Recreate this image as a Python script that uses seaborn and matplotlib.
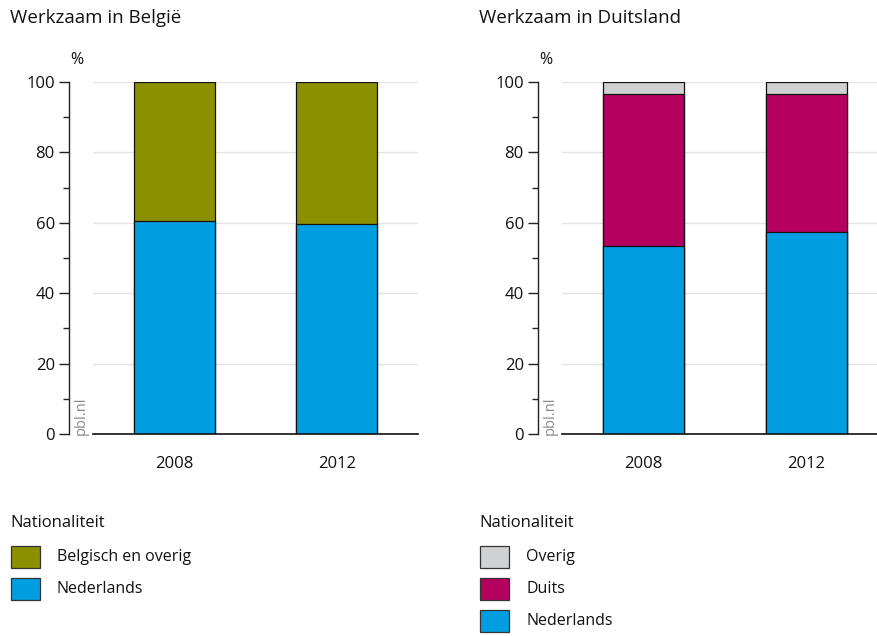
import matplotlib
matplotlib.use("Agg")
import matplotlib.pyplot as plt
from matplotlib.patches import Rectangle
from matplotlib.ticker import MultipleLocator
import numpy as np
import seaborn as sns

# ---- data ----
years = ["2008", "2012"]
be_nederlands = [60.4, 59.6]
be_belgisch = [39.6, 40.4]
de_nederlands = [53.5, 57.3]
de_duits = [43.1, 39.3]
de_overig = [3.4, 3.4]

be_labels = ["Belgisch en overig", "Nederlands"]
de_labels = ["Overig", "Duits", "Nederlands"]

C_OLIVE = "#8C8F00"
C_BLUE = "#009EE0"
C_MAGENTA = "#B5005F"
C_GREY = "#D0D1D3"

sns.set_theme(style="white")
FONT = ["Open Sans", "DejaVu Sans"]
plt.rcParams["font.family"] = FONT

W, H = 877, 636
fig = plt.figure(figsize=(W / 100, H / 100), dpi=100)


def px_axes(x0, y0, x1, y1):
    return fig.add_axes([x0 / W, 1 - y1 / H, (x1 - x0) / W, (y1 - y0) / H])


def style_axes(ax):
    ax.set_ylim(0, 100)
    ax.set_xlim(-0.5, 1.5)
    ax.yaxis.set_major_locator(MultipleLocator(20))
    ax.yaxis.set_minor_locator(MultipleLocator(10))
    ax.grid(axis="y", which="major", color="#E3E3E3", linewidth=1.0, zorder=0)
    ax.set_axisbelow(True)
    for s in ["top", "right"]:
        ax.spines[s].set_visible(False)
    ax.spines["left"].set_position(("outward", 17))
    ax.spines["left"].set_bounds(0, 100)
    ax.spines["left"].set_color("#222222")
    ax.spines["left"].set_linewidth(1.0)
    ax.spines["bottom"].set_color("#111111")
    ax.spines["bottom"].set_linewidth(1.2)
    ax.tick_params(axis="y", which="major", length=7.5, width=1.0, color="#222222",
                   direction="out", left=True, pad=3, labelsize=12, labelcolor="#111111")
    ax.tick_params(axis="y", which="minor", length=4, width=1.0, color="#222222",
                   direction="out", left=True)
    ax.tick_params(axis="x", length=0, pad=16, labelsize=12, labelcolor="#111111")
    ax.set_xlabel("")
    ax.set_ylabel("")


def stacked(ax, layers, colors):
    # layers from bottom to top; draw cumulative totals from the top down
    cums = np.cumsum(np.array(layers), axis=0)
    for cum, col in reversed(list(zip(cums, colors))):
        sns.barplot(x=years, y=list(cum), color=col, saturation=1, width=0.5,
                    edgecolor="#111111", linewidth=0.9, errorbar=None, ax=ax, zorder=2)


# ---- left panel ----
ax1 = px_axes(93, 82, 418, 434)
stacked(ax1, [be_nederlands, be_belgisch], [C_BLUE, C_OLIVE])
style_axes(ax1)

# ---- right panel ----
ax2 = px_axes(562, 82, 888, 434)
stacked(ax2, [de_nederlands, de_duits, de_overig], [C_BLUE, C_MAGENTA, C_GREY])
style_axes(ax2)

# ---- overlay for texts / legends ----
ov = fig.add_axes([0, 0, 1, 1], zorder=-1)
ov.set_xlim(0, W)
ov.set_ylim(H, 0)
ov.axis("off")

for x0, title in [(10, "Werkzaam in België"), (479, "Werkzaam in Duitsland")]:
    ov.text(x0, 18, title, fontsize=13.5, color="#111111", va="center", ha="left")
for xs in [77, 546]:
    ov.text(xs, 60, "%", fontsize=11.5, color="#111111", va="center", ha="center")
for xp in [81, 550]:
    ov.text(xp, 435, "pbl.nl", fontsize=10.5, color="#8A8A8A", rotation=90,
            va="bottom", ha="center")


def legend(x0, labels, colors):
    ov.text(x0, 523, "Nationaliteit", fontsize=12, color="#111111", va="center",
            ha="left")
    for i, (lab, col) in enumerate(zip(labels, colors)):
        yc = 557 + 32 * i
        ov.add_patch(Rectangle((x0 + 1, yc - 11), 29, 22, facecolor=col,
                               edgecolor="#333333", linewidth=0.9))
        ov.text(x0 + 47, yc, lab, fontsize=11.5, color="#111111", va="center",
                ha="left")


legend(10, be_labels, [C_OLIVE, C_BLUE])
legend(479, de_labels, [C_GREY, C_MAGENTA, C_BLUE])

fig.savefig("out.png", dpi=100)
